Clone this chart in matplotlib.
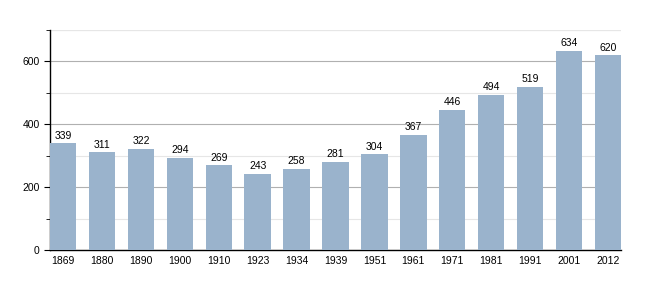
import matplotlib
matplotlib.use("Agg")
import matplotlib.pyplot as plt
from matplotlib.ticker import MultipleLocator

years = ["1869", "1880", "1890", "1900", "1910", "1923", "1934", "1939",
         "1951", "1961", "1971", "1981", "1991", "2001", "2012"]
population = [339, 311, 322, 294, 269, 243, 258, 281, 304, 367, 446, 494, 519, 634, 620]

plt.rcParams['font.family'] = ['Liberation Sans', 'DejaVu Sans']

fig = plt.figure(figsize=(6.5, 3), dpi=100)
ax = fig.add_axes([50 / 650, 50 / 300, 571 / 650, 220 / 300])

w = 0.68
x = range(len(years))
bars = ax.bar(x, population, width=w, color="#9ab3cc", zorder=3)

for xi, v in zip(x, population):
    ax.text(xi, v + 8, str(v), ha="center", va="bottom", fontsize=7.5, zorder=4)

ax.set_xlim(-w / 2, len(years) - 1 + w / 2)
ax.set_ylim(0, 700)
ax.set_xticks(list(x))
ax.set_xticklabels(years, fontsize=7.5)
ax.yaxis.set_major_locator(MultipleLocator(200))
ax.yaxis.set_minor_locator(MultipleLocator(100))
ax.tick_params(axis="y", which="major", length=4, labelsize=7.5, direction="out")
ax.tick_params(axis="y", which="minor", length=3, direction="out")
ax.tick_params(axis="x", length=0, pad=4)

ax.grid(axis="y", which="major", color="#b0b0b0", linewidth=0.8, zorder=0)
ax.grid(axis="y", which="minor", color="#e6e6e6", linewidth=0.8, zorder=0)
ax.axhline(700, color="#e6e6e6", linewidth=0.8, zorder=0)

for s in ["top", "right"]:
    ax.spines[s].set_visible(False)
ax.spines["left"].set_linewidth(1)
ax.spines["bottom"].set_linewidth(1)

fig.savefig("out.png", dpi=100)
